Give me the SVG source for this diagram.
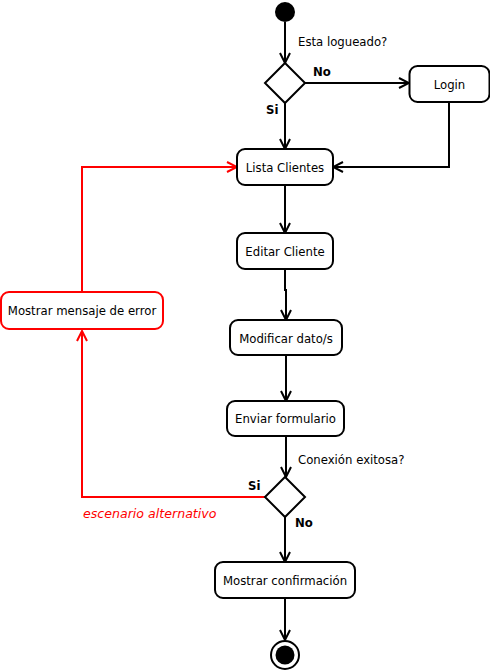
<svg xmlns="http://www.w3.org/2000/svg" width="490" height="671" viewBox="0 0 490 671">
  <style>
    .box { fill: #fff; stroke: #000; stroke-width: 2; }
    .box.err { stroke: #f00; }
    .lbl { font-family: "DejaVu Sans", Verdana, sans-serif; font-size: 11.7px; fill: #000; }
    .mid { text-anchor: middle; }
    .b { font-weight: bold; }
    .edge { fill: none; stroke: #000; stroke-width: 2; }
    .edge.alt { stroke: #f00; }
  </style>
  <defs>
    <marker id="open" viewBox="0 0 12 12" refX="11" refY="6" markerWidth="12" markerHeight="12" markerUnits="userSpaceOnUse" orient="auto">
      <path d="M1,1 L11,6 L1,11" fill="none" stroke="#000" stroke-width="2"/>
    </marker>
    <marker id="openRed" viewBox="0 0 12 12" refX="11" refY="6" markerWidth="12" markerHeight="12" markerUnits="userSpaceOnUse" orient="auto">
      <path d="M1,1 L11,6 L1,11" fill="none" stroke="#f00" stroke-width="2"/>
    </marker>
  </defs>

  <g id="connectors">
    <path class="edge" d="M285,22 V63" marker-end="url(#open)"/>
    <path class="edge" d="M305,83 H409" marker-end="url(#open)"/>
    <path class="edge" d="M285,103 V149" marker-end="url(#open)"/>
    <path class="edge" d="M449,102 V167 H333" marker-end="url(#open)"/>
    <path class="edge" d="M285,185 V233" marker-end="url(#open)"/>
    <path class="edge" d="M285,269 V290 H286 V320" marker-end="url(#open)"/>
    <path class="edge" d="M286,355 V401" marker-end="url(#open)"/>
    <path class="edge" d="M286,436 V477" marker-end="url(#open)"/>
    <path class="edge" d="M285,517 V562" marker-end="url(#open)"/>
    <path class="edge" d="M285,598 V640" marker-end="url(#open)"/>
    <path class="edge alt" d="M265,497 H82 V331" marker-end="url(#openRed)"/>
    <path class="edge alt" d="M82,292 V167 H237" marker-end="url(#openRed)"/>
    <text class="lbl" x="298" y="46">Esta logueado?</text>
    <text class="lbl b" x="313" y="76">No</text>
    <text class="lbl b" x="266" y="114">Si</text>
    <text class="lbl" x="298" y="464">Conexión exitosa?</text>
    <text class="lbl b" x="248" y="490">Si</text>
    <text class="lbl b" x="295" y="527">No</text>
    <text class="lbl" x="83" y="518" style="fill:#f00;font-style:italic;font-size:12.6px">escenario alternativo</text>
  </g>

  <g id="start"><circle cx="285" cy="12" r="10" fill="#000"/></g>

  <g id="check-login"><polygon class="box" points="285,63 305,83 285,103 265,83"/></g>

  <g id="login">
    <rect class="box" x="409.5" y="66" width="80" height="36" rx="8"/>
    <text class="lbl mid" x="449.5" y="89">Login</text>
  </g>

  <g id="lista-clientes">
    <rect class="box" x="237" y="149" width="96" height="36" rx="8"/>
    <text class="lbl mid" x="285" y="172">Lista Clientes</text>
  </g>

  <g id="editar-cliente">
    <rect class="box" x="237" y="233" width="96" height="36" rx="8"/>
    <text class="lbl mid" x="285" y="256">Editar Cliente</text>
  </g>

  <g id="modificar-datos">
    <rect class="box" x="230" y="320" width="112" height="35" rx="8"/>
    <text class="lbl mid" x="286" y="343">Modificar dato/s</text>
  </g>

  <g id="enviar-formulario">
    <rect class="box" x="227" y="401" width="117" height="35" rx="8"/>
    <text class="lbl mid" x="285.5" y="423">Enviar formulario</text>
  </g>

  <g id="check-conexion"><polygon class="box" points="285,477 305,497 285,517 265,497"/></g>

  <g id="mostrar-error">
    <rect class="box err" x="1" y="292" width="162" height="37" rx="8"/>
    <text class="lbl mid" x="82" y="315">Mostrar mensaje de error</text>
  </g>

  <g id="mostrar-confirmacion">
    <rect class="box" x="215" y="562" width="140" height="36" rx="8"/>
    <text class="lbl mid" x="285" y="585">Mostrar confirmación</text>
  </g>

  <g id="end">
    <circle cx="285" cy="655" r="14" fill="#fff" stroke="#000" stroke-width="2"/>
    <circle cx="285" cy="655" r="9.5" fill="#000"/>
  </g>
</svg>
